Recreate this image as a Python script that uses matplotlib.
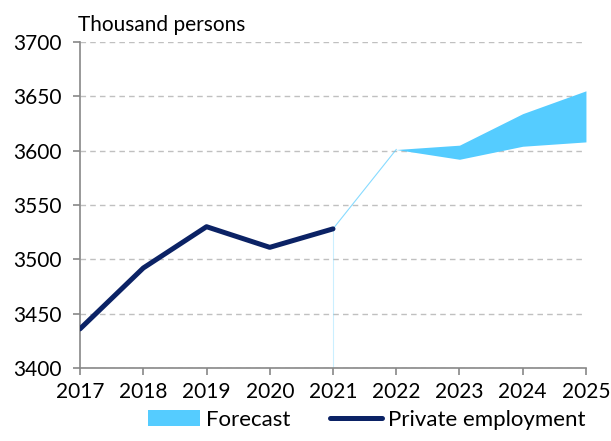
import numpy as np
import matplotlib.pyplot as plt

plt.rcParams['font.family'] = ['Lato', 'DejaVu Sans']

# historical private employment, thousand persons
years = [2017, 2018, 2019, 2020, 2021]
employment = [3436, 3492, 3530, 3511, 3528]

# forecast band
fc_years = [2022, 2023, 2024, 2025]
fc_low = [3601, 3592, 3604, 3608]
fc_high = [3601, 3605, 3634, 3655]

line_col = '#0b2265'
band_col = '#55ccff'

fig = plt.figure(figsize=(6.11, 4.41), dpi=100)
ax = fig.add_axes([0.131, 0.1655, 0.828, 0.7395])

# faint sliver joining 2021 to the band (as in the source chart)
ax.plot([2021, 2021], [3400, employment[-1]],
        color=band_col, lw=0.8, alpha=0.3, zorder=1)
ax.plot([2021, fc_years[0]], [employment[-1], fc_low[0]],
        color=band_col, lw=0.8, alpha=0.7, zorder=1)
ax.fill_between(fc_years, fc_low, fc_high, color=band_col, lw=0,
                label='Forecast', zorder=2)
ax.plot(years, employment, color=line_col, lw=3.6, solid_capstyle='round',
        label='Private employment', zorder=3)

ax.set_xlim(2017, 2025)
ax.set_ylim(3400, 3700)
ax.set_xticks(range(2017, 2026))
ax.set_yticks(range(3400, 3701, 50))

ax.grid(axis='y', color='#c0c0c0', ls=(0, (4, 3)), lw=1)
ax.set_axisbelow(True)
for s in ['top', 'right']:
    ax.spines[s].set_visible(False)
for s in ['left', 'bottom']:
    ax.spines[s].set_color('#888888')
    ax.spines[s].set_linewidth(1.2)
ax.tick_params(axis='both', colors='#888888', labelcolor='black',
               labelsize=15, direction='out', length=5, width=1.2)
ax.tick_params(axis='y', pad=8)
ax.tick_params(axis='x', pad=5)

fig.text(0.128, 0.943, 'Thousand persons', fontsize=15, ha='left', va='center')

fig.legend(loc='lower center', bbox_to_anchor=(0.6, -0.005), ncol=2,
           frameon=False, fontsize=16, handlelength=2.35, handleheight=0.75,
           columnspacing=1.8, handletextpad=0.25, borderpad=0.1)

fig.savefig('out.png', dpi=100)
